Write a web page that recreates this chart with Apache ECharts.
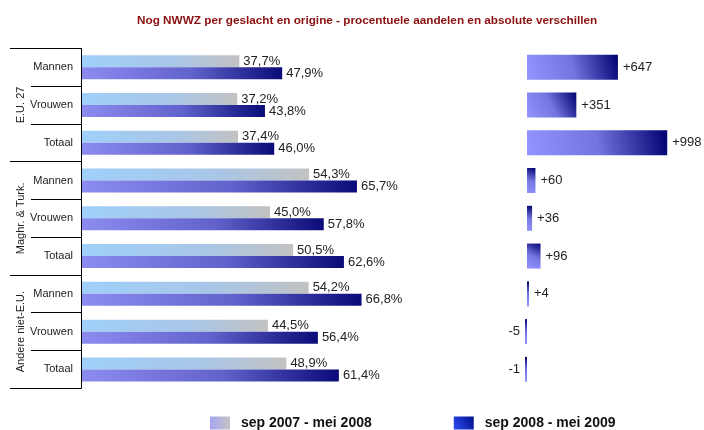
<!DOCTYPE html>
<html>
<head>
<meta charset="utf-8">
<script src="https://cdn.jsdelivr.net/npm/echarts@6/dist/echarts.min.js"></script>
<style>
    html, body, #main {
        width: 100%;
        height: 100%;
        margin: 0;
        background: #fff;
    }
</style>
</head>
<body>
<div id="main"></div>
<script>
    var categories = ['Mannen', 'Vrouwen', 'Totaal', 'Mannen', 'Vrouwen', 'Totaal', 'Mannen', 'Vrouwen', 'Totaal'];
    var groups = ['E.U. 27', 'Maghr. & Turk.', 'Andere niet-E.U.'];
    var seriesNames = ['sep 2007 - mei 2008', 'sep 2008 - mei 2009'];
    var share2007 = [37.7, 37.2, 37.4, 54.3, 45.0, 50.5, 54.2, 44.5, 48.9];
    var share2008 = [47.9, 43.8, 46.0, 65.7, 57.8, 62.6, 66.8, 56.4, 61.4];
    var difference = [647, 351, 998, 60, 36, 96, 4, -5, -1];

    var font = 'Liberation Sans, Arial, sans-serif';
    var grad = echarts.graphic.LinearGradient;

    var lightColor = new grad(0, 1, 1, 0, [
        {offset: 0, color: '#9fd0fa'},
        {offset: 0.6, color: '#a9c6e6'},
        {offset: 1, color: '#c2c2c2'}
    ]);
    var darkColor = new grad(0, 1, 1, 0, [
        {offset: 0, color: '#8c8cf0'},
        {offset: 0.55, color: '#6262cc'},
        {offset: 1, color: '#0a0a78'}
    ]);
    var diffColor = new grad(0, 1, 1, 0, [
        {offset: 0, color: '#9494ff'},
        {offset: 0.5, color: '#7474e0'},
        {offset: 1, color: '#000070'}
    ]);

    function pct(p) {
        return p.value.toFixed(1).replace('.', ',') + '%';
    }

    var chart = echarts.init(document.getElementById('main'));

    chart.setOption({
        animation: false,
        textStyle: {fontFamily: font},
        title: {
            text: 'Nog NWWZ per geslacht en origine - procentuele aandelen en absolute verschillen',
            left: 132,
            top: 10,
            textStyle: {color: '#8b1010', fontSize: 11.75, fontWeight: 'bold', fontFamily: font}
        },
        legend: {
            left: 205,
            top: 411,
            itemWidth: 20,
            itemHeight: 13,
            itemGap: 82,
            textStyle: {color: '#111', fontSize: 14, fontWeight: 'bold', fontFamily: font, padding: [0, 0, 0, 6]},
            data: [
                {name: seriesNames[0], icon: 'rect', itemStyle: {color: new grad(0, 0, 1, 0, [{offset: 0, color: '#a4a4f2'}, {offset: 1, color: '#c4c4c4'}])}},
                {name: seriesNames[1], icon: 'rect', itemStyle: {color: new grad(0, 1, 1, 0, [{offset: 0, color: '#2c4cf4'}, {offset: 1, color: '#00108a'}])}}
            ]
        },
        grid: [
            {left: 81, width: 420, top: 48.3, height: 340},
            {left: 520, width: 147.5, top: 48.3, height: 340}
        ],
        xAxis: [
            {gridIndex: 0, type: 'value', min: 0, max: 100, show: false},
            {gridIndex: 1, type: 'value', min: -50, max: 1000, show: false}
        ],
        yAxis: [
            {
                gridIndex: 0, type: 'category', inverse: true, data: categories, z: 5,
                axisLine: {show: true, lineStyle: {color: '#000', width: 1}},
                axisTick: {show: true, length: 50, lineStyle: {color: '#000', width: 1}},
                axisLabel: {margin: 8, color: '#222', fontSize: 11, fontFamily: font, interval: 0}
            },
            {
                gridIndex: 0, type: 'category', inverse: true, data: groups, position: 'left', z: 5,
                axisLine: {show: false},
                axisTick: {show: true, length: 71, lineStyle: {color: '#000', width: 1}},
                axisLabel: {rotate: 90, margin: 55, color: '#222', fontSize: 11, fontFamily: font, interval: 0}
            },
            {gridIndex: 1, type: 'category', inverse: true, data: categories, show: false}
        ],
        series: [
            {
                name: seriesNames[0], type: 'bar', xAxisIndex: 0, yAxisIndex: 0,
                data: share2007, barWidth: 12, barGap: '0%',
                itemStyle: {color: lightColor},
                label: {show: true, position: 'right', distance: 4, color: '#222', fontSize: 13, fontFamily: font, formatter: pct}
            },
            {
                name: seriesNames[1], type: 'bar', xAxisIndex: 0, yAxisIndex: 0,
                data: share2008, barWidth: 12, barGap: '0%',
                itemStyle: {color: darkColor},
                label: {show: true, position: 'right', distance: 4, color: '#222', fontSize: 13, fontFamily: font, formatter: pct}
            },
            {
                name: 'verschil', type: 'bar', xAxisIndex: 1, yAxisIndex: 2,
                barWidth: 25, barMinHeight: 2,
                itemStyle: {color: diffColor},
                data: difference.map(function (v) {
                    return {value: v, label: {position: v < 0 ? 'left' : 'right'}};
                }),
                label: {
                    show: true, distance: 5, color: '#222', fontSize: 13, fontFamily: font,
                    formatter: function (p) { return (p.value > 0 ? '+' : '') + p.value; }
                }
            }
        ]
    });
</script>
</body>
</html>
